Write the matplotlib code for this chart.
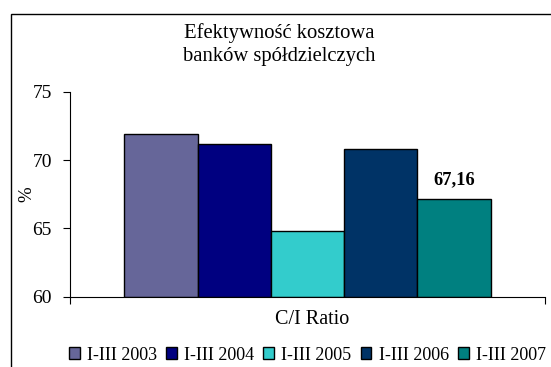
import matplotlib
matplotlib.use("Agg")
import matplotlib.pyplot as plt
from matplotlib.patches import Rectangle, Patch

plt.rcParams['font.family'] = ['Liberation Serif', 'DejaVu Serif']

# Data
category = "C/I Ratio"
periods = ["I-III 2003", "I-III 2004", "I-III 2005", "I-III 2006", "I-III 2007"]
values = [71.87, 71.2, 64.8, 70.78, 67.16]
colors = ["#666699", "#000080", "#33CCCC", "#003366", "#008080"]
labelled = [False, False, False, False, True]

W, H = 551, 367
fig = plt.figure(figsize=(W / 100, H / 100), dpi=100)
fig.patch.set_facecolor("white")

# Outer chart-area frame (runs past the right and bottom edges)
fig.patches.append(Rectangle((11 / W, -0.1), 1.2, (H - 14) / H + 0.1,
                             transform=fig.transFigure, fill=False,
                             edgecolor="#000000", linewidth=1.0, zorder=0))

ax = fig.add_axes([70 / W, (H - 296.8) / H, 475 / W, (296.8 - 91.7) / H])

n = len(values)
bar_w = 0.771 / n
x0 = -bar_w * n / 2
for i, (v, c) in enumerate(zip(values, colors)):
    x = x0 + bar_w * (i + 0.5)
    ax.bar(x, v - 60, bottom=60, width=bar_w, color=c, edgecolor="black",
           linewidth=1.0)
    if labelled[i]:
        ax.text(x, v + 0.75, f"{v:.2f}".replace(".", ","), ha="center",
                va="bottom", fontsize=13.3, fontweight="bold")

ax.set_xlim(-0.5, 0.5)
ax.set_ylim(60, 75)
ax.set_yticks([60, 65, 70, 75])
ax.set_xticks([-0.5, 0.5])
ax.set_xticklabels(["", ""])
ax.tick_params(axis="y", direction="out", length=5, labelsize=14, pad=8)
ax.tick_params(axis="x", direction="out", length=5)
ax.spines["top"].set_visible(False)
ax.spines["right"].set_visible(False)

fig.text(27 / W, 1 - 194 / H, "%", ha="center", va="center", rotation=90,
         fontsize=13.5)
fig.text(312 / W, 1 - 319 / H, category, ha="center", va="center",
         fontsize=14.5)
fig.text(279 / W, 1 - 33 / H, "Efektywność kosztowa", ha="center",
         va="center", fontsize=14.9)
fig.text(279 / W, 1 - 56 / H, "banków spółdzielczych", ha="center",
         va="center", fontsize=14.9)

handles = [Patch(facecolor=c, edgecolor="black", linewidth=1.0) for c in colors]
fig.legend(handles, periods, loc="center left",
           bbox_to_anchor=(69 / W, 1 - 355 / H), ncol=n, frameon=False,
           fontsize=13, handlelength=0.6, handleheight=0.6,
           handletextpad=0.4, columnspacing=0.5, borderaxespad=0,
           borderpad=0)

fig.savefig("out.png", dpi=100)
